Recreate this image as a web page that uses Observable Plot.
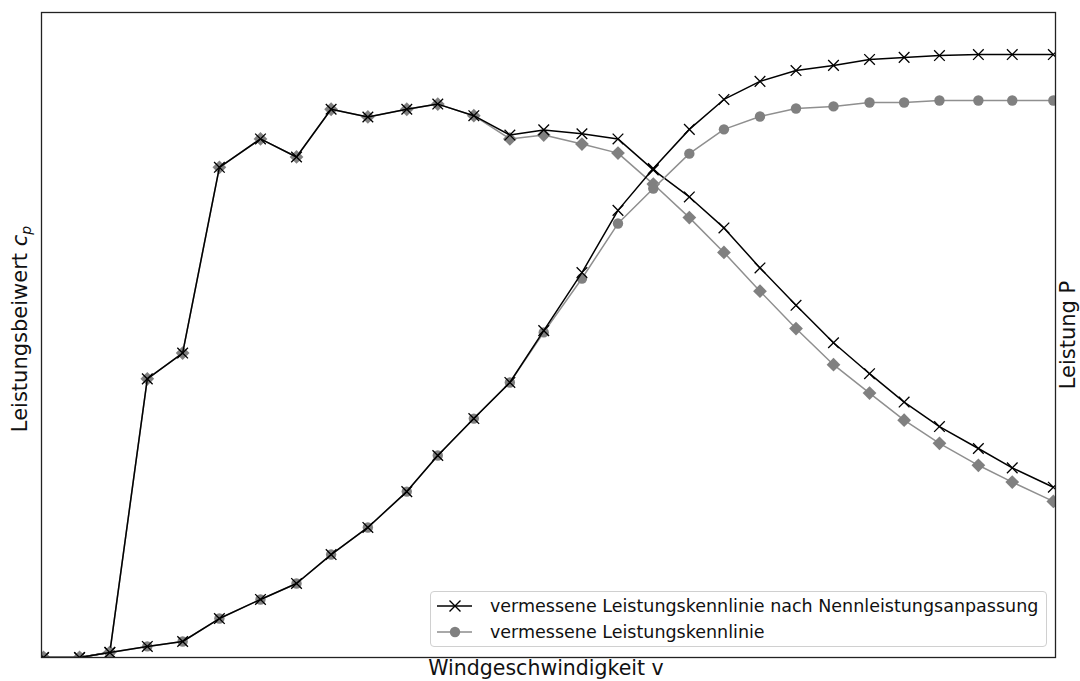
<!DOCTYPE html>
<html>
<head>
<meta charset="utf-8">
<script src="https://cdn.jsdelivr.net/npm/d3@7"></script>
<script src="https://cdn.jsdelivr.net/npm/@observablehq/plot@0.6"></script>
<style>
  html, body { margin: 0; padding: 0; background: white; }
  #wrap { position: relative; width: 1080px; height: 681px; overflow: hidden; font-family: "DejaVu Sans", sans-serif; }
  #wrap svg { position: absolute; left: 0; top: 0; }
  .lab { position: absolute; white-space: nowrap; font-size: 21px; line-height: 1; color: #111; }
  #legend { position: absolute; left: 430px; top: 591px; width: 617px; height: 56px; border: 1px solid #d0d0d0; border-radius: 4px; background: rgba(255,255,255,0.85); box-sizing: border-box; }
  .row { position: absolute; left: 0; height: 26px; display: flex; align-items: center; font-size: 17.5px; color: #111; white-space: nowrap; }
  .row svg { position: static !important; margin-left: 6px; margin-right: 17px; }
</style>
</head>
<body>
<div id="wrap">
  <div id="legend">
    <div class="row" style="top:1px"><svg width="36" height="14"><line x1="0" y1="7" x2="35" y2="7" stroke="black" stroke-width="1.5"/><path d="M12.5,1.5L23.5,12.5M12.5,12.5L23.5,1.5" stroke="black" stroke-width="1.4"/></svg><span id="leg1"></span></div>
    <div class="row" style="top:27px"><svg width="36" height="14"><line x1="0" y1="7" x2="35" y2="7" stroke="#8c8c8c" stroke-width="1.5"/><circle cx="18" cy="7" r="5.2" fill="#808080"/></svg><span id="leg2"></span></div>
  </div>
</div>
<script>
// wind speed bins (m/s)
const windSpeed = [1.00,1.50,1.92,2.44,2.93,3.44,4.01,4.51,4.99,5.50,6.04,6.47,6.97,7.47,7.94,8.47,8.97,9.46,9.96,10.44,10.94,11.44,11.96,12.46,12.94,13.43,13.97,14.44,15.01];
// power coefficient cp
const cpMeasured = [0,0,0.004,0.216,0.236,0.380,0.402,0.388,0.425,0.419,0.425,0.429,0.420,0.402,0.405,0.398,0.391,0.367,0.341,0.314,0.284,0.255,0.227,0.205,0.184,0.166,0.149,0.136,0.121];
const cpAdjusted = [0,0,0.004,0.216,0.236,0.380,0.402,0.388,0.425,0.419,0.425,0.429,0.420,0.405,0.409,0.406,0.402,0.378,0.357,0.333,0.302,0.273,0.244,0.220,0.198,0.179,0.162,0.147,0.132];
// power (kW)
const powerMeasured = [0,0,19,43,62,151,225,287,399,504,643,783,926,1066,1260,1469,1682,1818,1953,2047,2097,2128,2136,2151,2151,2159,2159,2159,2159];
const powerAdjusted = [0,0,19,43,62,151,225,287,399,504,643,783,926,1066,1267,1492,1733,1895,2047,2163,2233,2275,2295,2318,2326,2333,2337,2337,2337];

const legendLabels = ["vermessene Leistungskennlinie nach Nennleistungsanpassung", "vermessene Leistungskennlinie"];
const xLabel = "Windgeschwindigkeit v";
const yLabelLeft = "Leistungsbeiwert";
const yLabelRight = "Leistung P";

const rows = windSpeed.map((v, i) => ({v, cpM: cpMeasured[i], cpA: cpAdjusted[i], pM: powerMeasured[i], pA: powerAdjusted[i]}));

const W = 1080, H = 681;
const common = {width: W, height: H, marginTop: 12, marginRight: 25, marginBottom: 24, marginLeft: 41,
  x: {domain: [0.972, 15.04], axis: null}};

const grey = "#808080", greyLine = "#8f8f8f";

const cpPlot = Plot.plot({
  ...common,
  y: {domain: [0, 0.5], axis: null},
  style: {background: "white", fontFamily: "DejaVu Sans"},
  marks: [
    Plot.line(rows, {x: "v", y: "cpM", stroke: greyLine, strokeWidth: 1.5, clip: true}),
    Plot.dot(rows, {x: "v", y: "cpM", symbol: "diamond2", fill: grey, stroke: null, r: 6.2, clip: true}),
    Plot.line(rows, {x: "v", y: "cpA", stroke: "black", strokeWidth: 1.5, clip: true}),
    Plot.dot(rows, {x: "v", y: "cpA", symbol: "times", stroke: "black", strokeWidth: 1.3, r: 4.9, clip: true})
  ]
});

const pPlot = Plot.plot({
  ...common,
  y: {domain: [0, 2500], axis: null},
  style: {background: "transparent", fontFamily: "DejaVu Sans"},
  marks: [
    Plot.line(rows, {x: "v", y: "pM", stroke: greyLine, strokeWidth: 1.5, clip: true}),
    Plot.dot(rows, {x: "v", y: "pM", symbol: "circle", fill: grey, stroke: null, r: 5.2, clip: true}),
    Plot.line(rows, {x: "v", y: "pA", stroke: "black", strokeWidth: 1.5, clip: true}),
    Plot.dot(rows, {x: "v", y: "pA", symbol: "times", stroke: "black", strokeWidth: 1.3, r: 4.9, clip: true}),
    Plot.frame({stroke: "#222", strokeWidth: 1.3})
  ]
});

const wrap = document.getElementById("wrap");
const legend = document.getElementById("legend");
wrap.insertBefore(cpPlot, legend);
wrap.insertBefore(pPlot, legend);

document.getElementById("leg1").textContent = legendLabels[0];
document.getElementById("leg2").textContent = legendLabels[1];

function addLabel(html, x, y, rot, size) {
  const d = document.createElement("div");
  d.className = "lab";
  d.innerHTML = html;
  if (size) d.style.fontSize = size + "px";
  d.style.left = x + "px";
  d.style.top = y + "px";
  d.style.transform = "translate(-50%,-50%)" + (rot ? " rotate(-90deg)" : "");
  wrap.appendChild(d);
}
addLabel(yLabelLeft + ' <i>c</i><sub style="font-style:italic;font-size:14px;vertical-align:-4px">p</sub>', 21, 329, true);
addLabel(yLabelRight, 1068, 335, true);
addLabel(xLabel, 546, 668, false, 20.5);
</script>
</body>
</html>
